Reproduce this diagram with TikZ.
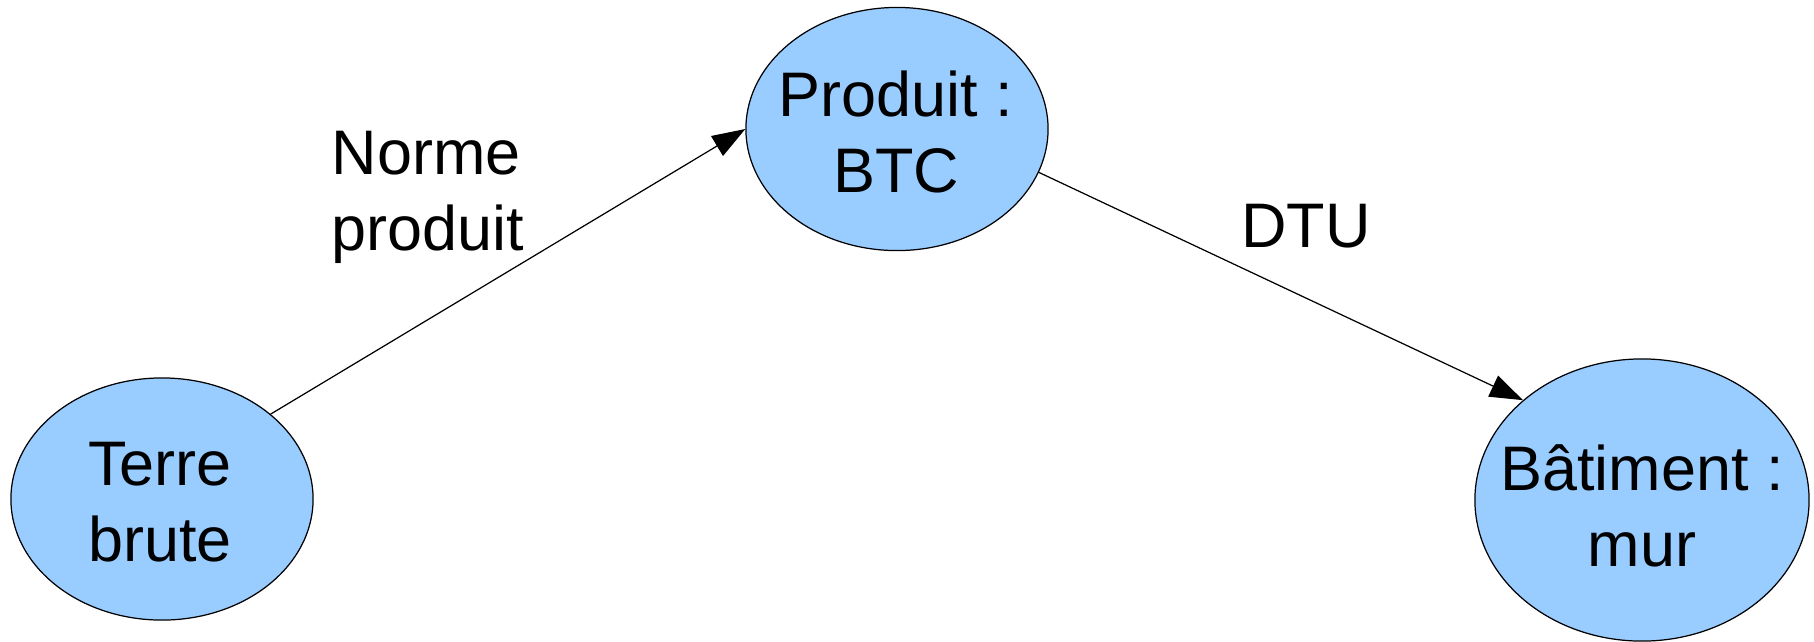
\documentclass[tikz,border=0pt]{standalone}
\usepackage{fontspec}
\setmainfont{Liberation Sans}
\usetikzlibrary{shapes.geometric,arrows.meta}
\definecolor{bubble}{RGB}{153,204,255}
\tikzset{
  bubble/.style={ellipse, draw=black, line width=0.35pt, fill=bubble, inner sep=0pt},
  lbl/.style={align=center, inner sep=0pt, font=\fontsize{17.9}{21.6}\selectfont},
  conn/.style={line width=0.35pt, -{Triangle[length=0.33cm, width=0.23cm]}}
}
\begin{document}
\begin{tikzpicture}[x=0.01cm, y=-0.01cm]
\useasboundingbox (0,0) rectangle (1814,641);
\node[bubble, minimum width=3.02cm, minimum height=2.42cm] (terre) at (162,499) {};
\node[bubble, minimum width=3.02cm, minimum height=2.43cm] (btc) at (897,129) {};
\node[bubble, minimum width=3.34cm, minimum height=2.82cm] (bat) at (1642,500) {};
\node[lbl] (terret) at (160,502.5) {Terre\\brute};
\node[lbl] (btct) at (896,132) {Produit :\\BTC};
\node[lbl] (batt) at (1642,505.5) {Bâtiment :\\mur};
\node[lbl, align=left] (norme) at (428,197) {Norme\\produit};
\node[lbl] (dtu) at (1306,226) {DTU};
\draw[conn] (terre.38.5) -- (btc.west);
\draw[conn] (btc.-17.8) -- (bat.140.2);
\end{tikzpicture}
\end{document}
